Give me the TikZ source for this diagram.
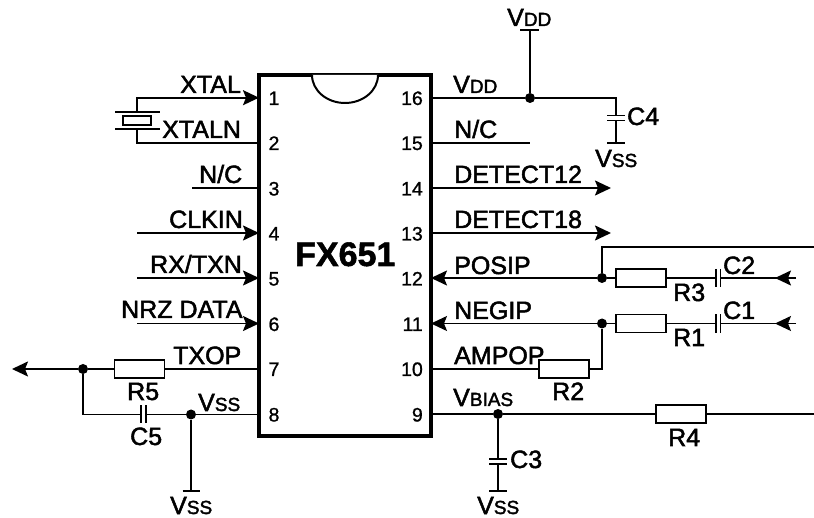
\documentclass[tikz,border=0pt]{standalone}
\usepackage{fontspec}
\setmainfont{Liberation Sans}
\newfontfamily\labfont[FakeBold=2]{Liberation Sans}
\newfontfamily\numfont[FakeBold=1]{Liberation Sans}
\newfontfamily\titlefont[FakeBold=1.5]{Liberation Sans Bold}
\usetikzlibrary{arrows.meta}
\newcommand{\subs}[1]{{\fontsize{19}{19}\selectfont #1}}
\newcommand{\VSS}{V\subs{SS}}
\newcommand{\VDD}{V\subs{DD}}
\tikzset{
  wire/.style={line width=1.8pt,line join=miter},
  plate/.style={line width=1.8pt},
  arrowin/.style={wire,-{Stealth[length=16pt,width=15pt,inset=3pt]}},
  res/.style={draw,line width=1.8pt,fill=white,rectangle,inner sep=0pt,minimum width=50pt,minimum height=18pt},
  xtalbody/.style={draw,line width=1.8pt,fill=white,rectangle,inner sep=0pt,minimum width=28pt,minimum height=9pt},
  dot/.style={circle,fill=black,inner sep=0pt,minimum size=10pt},
  lab/.style={anchor=base west,inner sep=0pt,font=\labfont\fontsize{25}{25}\selectfont},
  pinl/.style={anchor=base,inner sep=0pt,font=\numfont\fontsize{19.5}{19.5}\selectfont},
  pinr/.style={anchor=base east,inner sep=0pt,font=\numfont\fontsize{19.5}{19.5}\selectfont},
  icbox/.style={draw,line width=4pt,rectangle,inner sep=0pt,minimum width=172pt,minimum height=361pt},
}
\begin{document}
\begin{tikzpicture}[x=1pt,y=-1pt]
\useasboundingbox (0,0) rectangle (814,518);
% pin coordinates
\coordinate (L1) at (259,97.7); \coordinate (L2) at (259,142.7); \coordinate (L3) at (259,188);
\coordinate (L4) at (259,233); \coordinate (L5) at (259,278); \coordinate (L6) at (259,323.5);
\coordinate (L7) at (259,369); \coordinate (L8) at (259,414.5);
\coordinate (R16) at (431,98); \coordinate (R15) at (431,143); \coordinate (R14) at (431,188);
\coordinate (R13) at (431,233); \coordinate (R12) at (431,278); \coordinate (R11) at (431,323.5);
\coordinate (R10) at (431,368.7); \coordinate (R9) at (431,414);
% crystal
\coordinate (xa) at (137,97.7); \coordinate (xb) at (137,111.7);
\coordinate (xc) at (137,129.3); \coordinate (xd) at (137,142.7);
\coordinate (xp1l) at (115,111.7); \coordinate (xp1r) at (160,111.7);
\coordinate (xp2l) at (115,129.3); \coordinate (xp2r) at (160,129.3);
\draw[arrowin] (xb) -- (xa) -- (L1);
\draw[wire] (xc) -- (xd) -- (L2);
\draw[plate] (xp1l) -- (xp1r);
\draw[plate] (xp2l) -- (xp2r);
\node[xtalbody] (xtal) at (137,120.5) {};
% left input pins
\coordinate (n3) at (192,188); \coordinate (n4) at (137,233); \coordinate (n5) at (137,278); \coordinate (n6) at (137,323.5);
\draw[wire] (n3) -- (L3);
\draw[arrowin] (n4) -- (L4);
\draw[arrowin] (n5) -- (L5);
\draw[arrowin] (n6) -- (L6);
% TXOP
\node[dot] (d7) at (83,369) {};
\coordinate (outL) at (12,369);
\node[res] (r5) at (139.5,369) {};
\draw[arrowin] (d7) -- (outL);
\draw[wire] (d7) -- (r5) -- (L7);
% C5
\node[dot] (d8) at (191,414.5) {};
\coordinate (c5a) at (141,414.5); \coordinate (c5b) at (146,414.5);
\coordinate (c5k) at (83,414.5);
\draw[wire] (d7) -- (c5k) -- (c5a);
\draw[wire] (c5b) -- (d8) -- (L8);
\draw[plate] (141,405.5) -- (141,423.5);
\draw[plate] (146,405.5) -- (146,423.5);
\coordinate (g8) at (191,490.7);
\draw[wire] (d8) -- (g8);
\draw[plate] (182.5,490.7) -- (200,490.7);
% VDD
\node[dot] (d16) at (530,98) {};
\coordinate (vddt) at (530,30);
\coordinate (c4k) at (616,98); \coordinate (c4a) at (616,115.5); \coordinate (c4b) at (616,120.5); \coordinate (c4g) at (616,143);
\draw[wire] (R16) -- (d16) -- (c4k) -- (c4a);
\draw[wire] (d16) -- (vddt);
\draw[plate] (520,30) -- (539,30);
\draw[wire] (c4b) -- (c4g);
\draw[plate] (607,115.5) -- (625,115.5);
\draw[plate] (607,120.5) -- (625,120.5);
\draw[plate] (607,143) -- (625,143);
% 15, 14, 13
\coordinate (n15) at (530,143); \coordinate (n14) at (611,188); \coordinate (n13) at (611,233);
\draw[wire] (R15) -- (n15);
\draw[arrowin] (R14) -- (n14);
\draw[arrowin] (R13) -- (n13);
% 12
\node[dot] (d12) at (602,278) {};
\node[res] (r3) at (641,278) {};
\coordinate (t12) at (602,246.7); \coordinate (t12e) at (814,246.7);
\coordinate (c2a) at (716,278); \coordinate (c2b) at (720.5,278); \coordinate (in12) at (796,278); \coordinate (tip12) at (775,278);
\draw[arrowin] (d12) -- (R12);
\draw[wire] (d12) -- (t12) -- (t12e);
\draw[wire] (d12) -- (r3) -- (c2a);
\draw[plate] (716,269) -- (716,287.5);
\draw[plate] (720.5,269) -- (720.5,287.5);
\draw[wire] (c2b) -- (in12);
\draw[arrowin] (in12) -- (tip12);
% 11
\node[dot] (d11) at (602,323.5) {};
\node[res] (r1) at (641,323.5) {};
\coordinate (c1a) at (716,323.5); \coordinate (c1b) at (720.5,323.5); \coordinate (in11) at (796,323.5); \coordinate (tip11) at (775,323.5);
\draw[arrowin] (d11) -- (R11);
\draw[wire] (d11) -- (r1) -- (c1a);
\draw[plate] (716,314.5) -- (716,333);
\draw[plate] (720.5,314.5) -- (720.5,333);
\draw[wire] (c1b) -- (in11);
\draw[arrowin] (in11) -- (tip11);
% 10
\node[res] (r2) at (564,368.7) {};
\coordinate (k10) at (602,368.7);
\draw[wire] (R10) -- (r2) -- (k10) -- (d11);
% 9
\node[dot] (d9) at (498,414) {};
\node[res] (r4) at (681,414) {};
\coordinate (e9) at (814,414);
\draw[wire] (R9) -- (d9) -- (r4) -- (e9);
\coordinate (c3a) at (498,459); \coordinate (c3b) at (498,464); \coordinate (c3g) at (498,491);
\draw[wire] (d9) -- (c3a);
\draw[wire] (c3b) -- (c3g);
\draw[plate] (489,459) -- (507,459);
\draw[plate] (489,464) -- (507,464);
\draw[plate] (489,491) -- (507,491);
% IC
\node[icbox] (ic) at (345,255.5) {};
\draw[line width=2pt,fill=white] (312,75) arc[start angle=180,end angle=360,x radius=33pt,y radius=28pt];
% pin numbers
\node[pinl] (pn1) at (274,105) {1};
\node[pinl] (pn2) at (274,150) {2};
\node[pinl] (pn3) at (274,195.5) {3};
\node[pinl] (pn4) at (274,240.5) {4};
\node[pinl] (pn5) at (274,285.5) {5};
\node[pinl] (pn6) at (274,331) {6};
\node[pinl] (pn7) at (274,376) {7};
\node[pinl] (pn8) at (274,421.5) {8};
\node[pinr] (pn16) at (423,105) {16};
\node[pinr] (pn15) at (423,150) {15};
\node[pinr] (pn14) at (423,195.5) {14};
\node[pinr] (pn13) at (423,240.5) {13};
\node[pinr] (pn12) at (423,285.5) {12};
\node[pinr] (pn11) at (423,331) {11};
\node[pinr] (pn10) at (423,376) {10};
\node[pinr] (pn9) at (423,421.5) {9};
\node[anchor=base west,inner sep=0pt,font=\titlefont\fontsize{34}{34}\selectfont] (title) at (295,266) {FX651};
% labels
\node[lab] (txtal) at (180,93) {XTAL};
\node[lab] (txtaln) at (162,138) {XTALN};
\node[lab] (tnc3) at (199,183) {N/C};
\node[lab] (tclk) at (169,228) {CLKIN};
\node[lab] (trx) at (150,273) {RX/TXN};
\node[lab] (tnrz) at (121,318) {NRZ DATA};
\node[lab] (ttxop) at (173,364) {TXOP};
\node[lab] (tr5) at (127,400) {R5};
\node[lab] (tvss8) at (198,411) {\VSS};
\node[lab] (tc5) at (130,445) {C5};
\node[lab] (tvssb) at (170,514) {\VSS};
\node[lab] (tvdd) at (453,93) {\VDD};
\node[lab] (tvddt) at (507,26) {\VDD};
\node[lab] (tnc15) at (454,138) {N/C};
\node[lab] (tc4) at (627,125) {C4};
\node[lab] (tvss4) at (595,167) {\VSS};
\node[lab] (tdet12) at (454,183) {DETECT12};
\node[lab] (tdet18) at (454,228) {DETECT18};
\node[lab] (tpos) at (454,274) {POSIP};
\node[lab] (tneg) at (454,319) {NEGIP};
\node[lab] (tamp) at (454,364) {AMPOP};
\node[lab] (tr3) at (673,301) {R3};
\node[lab] (tc2) at (723,274) {C2};
\node[lab] (tr1) at (673,346) {R1};
\node[lab] (tc1) at (723,319) {C1};
\node[lab] (tr2) at (552,400) {R2};
\node[lab] (tbias) at (453,406) {V\subs{BIAS}};
\node[lab] (tr4) at (668,446) {R4};
\node[lab] (tc3) at (510,468) {C3};
\node[lab] (tvss3) at (477,514) {\VSS};
\end{tikzpicture}
\end{document}
